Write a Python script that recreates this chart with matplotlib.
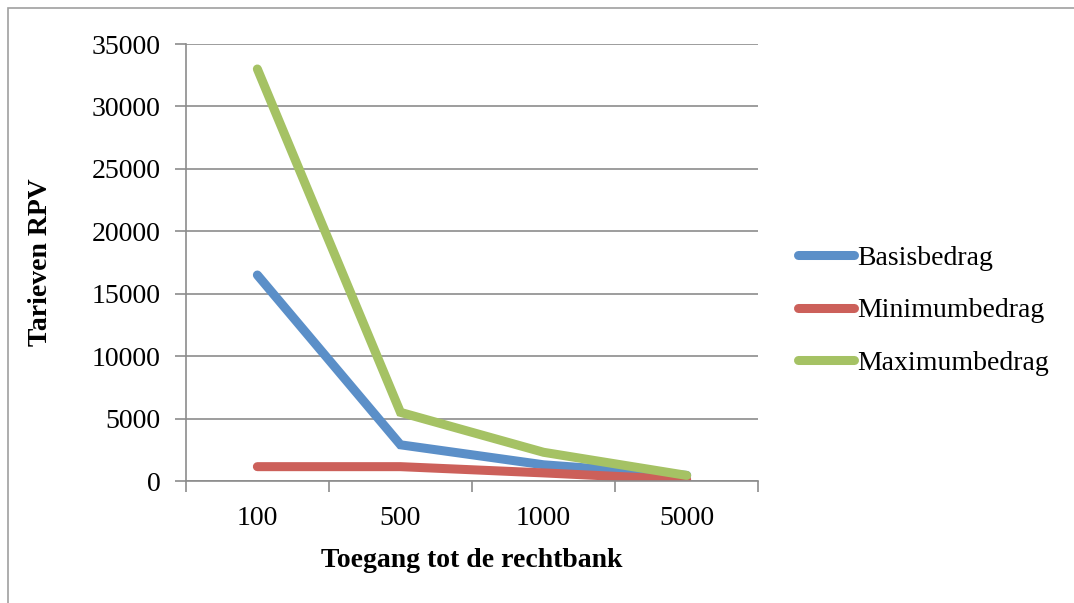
import matplotlib
matplotlib.use("Agg")
import matplotlib.pyplot as plt
from matplotlib.patches import Rectangle

plt.rcParams['font.family'] = ['Liberation Serif', 'DejaVu Serif']

categories = ['100', '500', '1000', '5000']
basisbedrag = [16500, 2900, 1300, 450]
minimumbedrag = [1150, 1150, 650, 100]
maximumbedrag = [33000, 5500, 2300, 450]

series = [
    ('Basisbedrag', basisbedrag, '#5b8fc8'),
    ('Minimumbedrag', minimumbedrag, '#cc605a'),
    ('Maximumbedrag', maximumbedrag, '#a5c264'),
]

fig = plt.figure(figsize=(10.74, 6.03), dpi=100)
ax = fig.add_axes([0.173, 0.2023, 0.533, 0.7247])

x = range(len(categories))
for name, vals, col in series:
    ax.plot(x, vals, color=col, lw=6.5, solid_capstyle='round',
            solid_joinstyle='miter', label=name)

grid_col = '#8c8c8c'
ax.set_xlim(-0.5, len(categories) - 0.5)
ax.set_ylim(0, 35000)
ax.set_yticks(range(0, 35001, 5000))
ax.yaxis.grid(True, color=grid_col, lw=1.2)
ax.set_axisbelow(True)

ax.set_xticks([i - 0.5 for i in range(len(categories) + 1)])
ax.set_xticklabels([])
ax.set_xticks(list(x), minor=True)
ax.set_xticklabels(categories, minor=True, fontsize=20)
ax.tick_params(axis='x', which='minor', length=0, pad=18)
ax.tick_params(axis='x', which='major', length=8, color=grid_col, width=1.2)
ax.tick_params(axis='y', length=8, color=grid_col, width=1.2, labelsize=20, pad=10)

for s in ['top', 'right']:
    ax.spines[s].set_visible(False)
for s in ['left', 'bottom']:
    ax.spines[s].set_color(grid_col)
    ax.spines[s].set_linewidth(1.2)

ax.set_ylabel('Tarieven RPV', fontsize=20, fontweight='bold', labelpad=28)
ax.set_xlabel('Toegang tot de rechtbank', fontsize=20, fontweight='bold', labelpad=12)

ax.legend(loc='center left', bbox_to_anchor=(1.025, 0.39), frameon=False,
          fontsize=20, handlelength=2.05, handletextpad=0.1, labelspacing=0.98)

fig.patches.append(Rectangle((8 / 1074, -0.01), 1.02, 1 - 8 / 603 + 0.01,
                             transform=fig.transFigure, fill=False,
                             edgecolor='#a0a0a0', lw=1.2))

fig.savefig('out.png', dpi=100)
